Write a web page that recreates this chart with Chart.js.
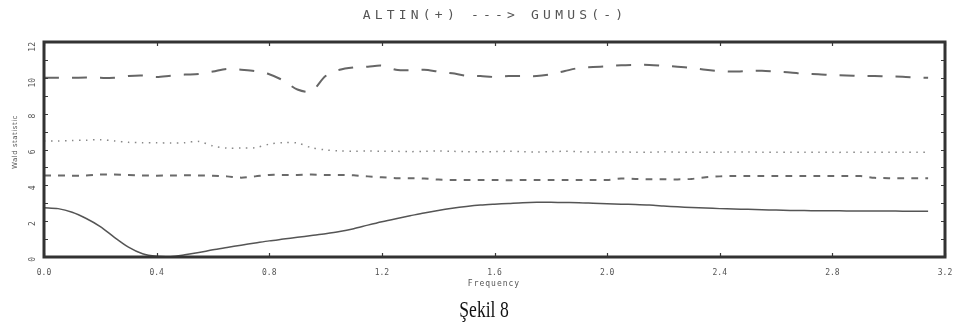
<!DOCTYPE html>
<html>
<head>
<meta charset="utf-8">
<script src="https://cdn.jsdelivr.net/npm/chart.js@4.4.1/dist/chart.umd.min.js"></script>
<style>
  html, body { margin: 0; padding: 0; background: #fff; }
  #wrap { width: 956px; height: 331px; position: relative; }
</style>
</head>
<body>
<div id="wrap"><canvas id="js-chart-wald"></canvas></div>
<script>
// Frequency grid (0 .. pi)
const freq = [0.00, 0.05, 0.10, 0.15, 0.20, 0.25, 0.30, 0.35, 0.40, 0.45,
  0.50, 0.55, 0.60, 0.65, 0.70, 0.75, 0.80, 0.85, 0.90, 0.95,
  1.00, 1.05, 1.10, 1.15, 1.20, 1.25, 1.30, 1.35, 1.40, 1.45,
  1.50, 1.55, 1.60, 1.65, 1.70, 1.75, 1.80, 1.85, 1.90, 1.95,
  2.00, 2.05, 2.10, 2.15, 2.20, 2.25, 2.30, 2.35, 2.40, 2.45,
  2.50, 2.55, 2.60, 2.65, 2.70, 2.75, 2.80, 2.85, 2.90, 2.95,
  3.00, 3.05, 3.10, 3.14];

// Long dashed line (~10)
const waldLongDash = [10.00, 10.00, 10.00, 10.02, 10.00, 10.00, 10.10, 10.13, 10.05, 10.12,
  10.18, 10.22, 10.35, 10.50, 10.45, 10.38, 10.20, 9.85, 9.35, 9.25,
  10.10, 10.45, 10.58, 10.62, 10.68, 10.45, 10.42, 10.45, 10.35, 10.25,
  10.12, 10.10, 10.05, 10.10, 10.10, 10.10, 10.20, 10.38, 10.55, 10.60,
  10.65, 10.70, 10.72, 10.72, 10.68, 10.62, 10.55, 10.45, 10.38, 10.35,
  10.38, 10.40, 10.35, 10.30, 10.22, 10.20, 10.15, 10.13, 10.10, 10.10,
  10.08, 10.06, 10.02, 10.00];

// Dotted line (~6)
const waldDotted = [6.48, 6.48, 6.50, 6.52, 6.55, 6.48, 6.40, 6.38, 6.38, 6.36,
  6.38, 6.45, 6.20, 6.08, 6.08, 6.10, 6.30, 6.38, 6.36, 6.10,
  5.98, 5.92, 5.90, 5.92, 5.90, 5.90, 5.88, 5.90, 5.92, 5.90,
  5.88, 5.88, 5.88, 5.90, 5.88, 5.86, 5.88, 5.90, 5.88, 5.86,
  5.86, 5.86, 5.85, 5.85, 5.87, 5.85, 5.85, 5.85, 5.85, 5.86,
  5.86, 5.85, 5.85, 5.85, 5.85, 5.85, 5.84, 5.84, 5.84, 5.84,
  5.84, 5.84, 5.84, 5.84];

// Short dashed line (~4.5)
const waldShortDash = [4.55, 4.55, 4.54, 4.55, 4.60, 4.60, 4.58, 4.55, 4.54, 4.55,
  4.56, 4.55, 4.54, 4.50, 4.43, 4.50, 4.58, 4.58, 4.58, 4.60,
  4.58, 4.58, 4.56, 4.50, 4.45, 4.40, 4.40, 4.38, 4.32, 4.30,
  4.30, 4.30, 4.30, 4.28, 4.30, 4.30, 4.30, 4.30, 4.30, 4.30,
  4.30, 4.38, 4.36, 4.34, 4.34, 4.33, 4.36, 4.45, 4.50, 4.52,
  4.52, 4.52, 4.52, 4.52, 4.52, 4.52, 4.52, 4.52, 4.52, 4.42,
  4.40, 4.40, 4.40, 4.40];

// Solid line
const waldSolid = [2.75, 2.70, 2.50, 2.15, 1.70, 1.10, 0.55, 0.18, 0.04, 0.02,
  0.12, 0.25, 0.40, 0.53, 0.66, 0.78, 0.90, 1.00, 1.10, 1.20,
  1.30, 1.42, 1.58, 1.78, 1.97, 2.14, 2.30, 2.46, 2.60, 2.72,
  2.82, 2.90, 2.95, 2.99, 3.03, 3.05, 3.05, 3.04, 3.03, 3.00,
  2.97, 2.95, 2.93, 2.90, 2.85, 2.80, 2.76, 2.73, 2.70, 2.68,
  2.66, 2.64, 2.62, 2.60, 2.59, 2.58, 2.58, 2.57, 2.57, 2.57,
  2.57, 2.56, 2.56, 2.56];

// Tick labels
const xTicks = [0.0, 0.4, 0.8, 1.2, 1.6, 2.0, 2.4, 2.8, 3.2];
const yTicks = [0, 2, 4, 6, 8, 10, 12];
const yMinorTicks = [0, 1, 2, 3, 4, 5, 6, 7, 8, 9, 10, 11, 12];

const chartTitle = 'ALTIN(+) ---> GUMUS(-)';
const xTitle = 'Frequency';
const yTitle = 'Wald statistic';
const figCaption = 'Şekil 8';

function toPoints(arr) {
  return freq.map((f, i) => ({ x: f, y: arr[i] }));
}

// Frame, inward tick marks and texts
const framePlugin = {
  id: 'frame',
  afterDraw(chart) {
    const ctx = chart.ctx;
    const a = chart.chartArea;
    const xs = chart.scales.x, ys = chart.scales.y;
    ctx.save();
    ctx.strokeStyle = '#3a3a3a';
    ctx.lineWidth = 1.2;
    yMinorTicks.forEach(v => {
      const py = Math.round(ys.getPixelForValue(v)) + 0.5;
      ctx.beginPath();
      ctx.moveTo(a.left, py); ctx.lineTo(a.left + 4, py);
      ctx.moveTo(a.right, py); ctx.lineTo(a.right - 4, py);
      ctx.stroke();
    });
    xTicks.forEach(v => {
      const px = Math.round(xs.getPixelForValue(v)) + 0.5;
      ctx.beginPath();
      ctx.moveTo(px, a.bottom); ctx.lineTo(px, a.bottom - 4);
      ctx.moveTo(px, a.top); ctx.lineTo(px, a.top + 4);
      ctx.stroke();
    });
    ctx.lineWidth = 3;
    ctx.strokeStyle = '#333';
    ctx.strokeRect(a.left, a.top, a.right - a.left, a.bottom - a.top);

    ctx.fillStyle = '#555';
    ctx.textAlign = 'center';
    ctx.textBaseline = 'middle';
    ctx.font = '13px "DejaVu Sans Mono"';
    ctx.letterSpacing = '4.2px';
    ctx.fillText(chartTitle, 495, 16);
    ctx.font = '8px "DejaVu Sans Mono"';
    ctx.letterSpacing = '1px';
    ctx.fillText(xTitle, 494, 284);
    ctx.save();
    ctx.translate(15, 142);
    ctx.rotate(-Math.PI / 2);
    ctx.font = '7px "DejaVu Sans"';
    ctx.letterSpacing = '0.5px';
    ctx.fillText(yTitle, 0, 0);
    ctx.restore();
    ctx.letterSpacing = '0px';
    ctx.fillStyle = '#111';
    ctx.save();
    ctx.translate(484, 311);
    ctx.scale(0.88, 1.15);
    ctx.font = '20px "Liberation Serif"';
    ctx.fillText(figCaption, 0, 0);
    ctx.restore();
    ctx.restore();
  }
};

const chartCon = document.getElementById('js-chart-wald');

const lineBase = { pointRadius: 0, tension: 0.3, fill: false };

new Chart(chartCon, {
  type: 'line',
  data: {
    datasets: [
      Object.assign({ label: 'long', data: toPoints(waldLongDash), borderColor: '#666', borderWidth: 2, borderDash: [15, 13] }, lineBase),
      Object.assign({ label: 'dotted', data: toPoints(waldDotted), borderColor: '#888', borderWidth: 1.5, borderDash: [1.5, 5.5] }, lineBase),
      Object.assign({ label: 'short', data: toPoints(waldShortDash), borderColor: '#6a6a6a', borderWidth: 2, borderDash: [7, 7] }, lineBase),
      Object.assign({ label: 'solid', data: toPoints(waldSolid), borderColor: '#555', borderWidth: 1.5 }, lineBase)
    ]
  },
  options: {
    responsive: true,
    maintainAspectRatio: false,
    animation: false,
    layout: { padding: { left: 0, top: 42, right: 11, bottom: 0 } },
    plugins: { legend: { display: false }, tooltip: { enabled: false }, title: { display: false } },
    scales: {
      x: {
        type: 'linear', min: 0, max: 3.2,
        afterFit: s => { s.height = 74; },
        afterBuildTicks: s => { s.ticks = xTicks.map(v => ({ value: v })); },
        grid: { display: false },
        border: { display: false },
        ticks: {
          color: '#555', font: { family: 'DejaVu Sans Mono', size: 8 }, padding: 3,
          maxRotation: 0, autoSkip: false,
          callback: v => v.toFixed(1)
        }
      },
      y: {
        type: 'linear', min: 0, max: 12,
        afterFit: s => { s.width = 44; },
        afterBuildTicks: s => { s.ticks = yTicks.map(v => ({ value: v })); },
        grid: { display: false },
        border: { display: false },
        ticks: {
          color: '#555', font: { family: 'DejaVu Sans Mono', size: 8 }, padding: 3,
          minRotation: 90, maxRotation: 90
        }
      }
    }
  },
  plugins: [framePlugin]
});
</script>
</body>
</html>
